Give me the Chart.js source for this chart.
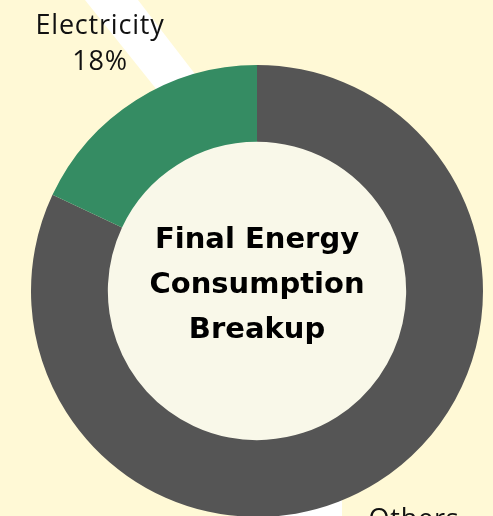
<!DOCTYPE html>
<html>
<head>
<meta charset="utf-8">
<script src="https://cdn.jsdelivr.net/npm/chart.js@4"></script>
<style>
    html, body { margin: 0; padding: 0; background: #fff9d6; overflow: hidden; }
    #wrap { width: 493px; height: 540px; }
</style>
</head>
<body>
<div id="wrap"><canvas id="energy"></canvas></div>
<script>
const categories = ['Others', 'Electricity']
const shares = [82, 18]
const colours = ['#555555', '#358c63']
const titleLines = ['Final Energy', 'Consumption', 'Breakup']

// white bands + inner disc behind the ring
const backdrop = {
    id: 'backdrop',
    beforeDatasetsDraw(chart) {
        const ctx = chart.ctx
        const arc = chart.getDatasetMeta(0).data[0]
        ctx.save()
        ctx.fillStyle = '#ffffff'
        ctx.beginPath()
        ctx.moveTo(85, 0)
        ctx.lineTo(138, 0)
        ctx.lineTo(215, 100)
        ctx.lineTo(165, 100)
        ctx.closePath()
        ctx.fill()
        ctx.fillRect(240, 470, 102, 60)
        ctx.fillStyle = '#f9f8e9'
        ctx.beginPath()
        ctx.arc(arc.x, arc.y, arc.innerRadius + 1, 0, Math.PI * 2)
        ctx.fill()
        ctx.restore()
    }
}

const labels = {
    id: 'labels',
    afterDraw(chart) {
        const ctx = chart.ctx
        const meta = chart.getDatasetMeta(0)
        const arc0 = meta.data[0]
        ctx.save()
        ctx.textAlign = 'center'
        ctx.textBaseline = 'alphabetic'
        ctx.fillStyle = '#000000'

        ctx.font = 'bold 29px "DejaVu Sans"'
        titleLines.forEach((t, i) => {
            ctx.fillText(t, arc0.x, arc0.y - 43 + i * 45)
        })

        ctx.fillStyle = '#111111'
        ctx.font = '400 27px "Open Sans"'
        ctx.letterSpacing = '0.8px'
        meta.data.forEach((arc, i) => {
            const mid = (arc.startAngle + arc.endAngle) / 2
            const d = arc.outerRadius + 67
            const x = arc.x + Math.cos(mid) * d
            const y = arc.y + Math.sin(mid) * d
            ctx.fillText(categories[i], x, y - 10)
            ctx.fillText(shares[i] + '%', x, y + 26)
        })
        ctx.restore()
    }
}

const energy = new Chart(
    document.getElementById('energy'),
    {
        type: 'doughnut',
        data: {
            labels: categories,
            datasets: [{
                data: shares,
                backgroundColor: colours,
                borderWidth: 0
            }]
        },
        options: {
            responsive: true,
            maintainAspectRatio: false,
            animation: false,
            cutout: '66%',
            layout: {
                padding: { top: 65, bottom: 23, left: 31, right: 10 }
            },
            plugins: {
                legend: { display: false },
                tooltip: { enabled: false }
            }
        },
        plugins: [backdrop, labels]
    }
)
</script>
</body>
</html>
